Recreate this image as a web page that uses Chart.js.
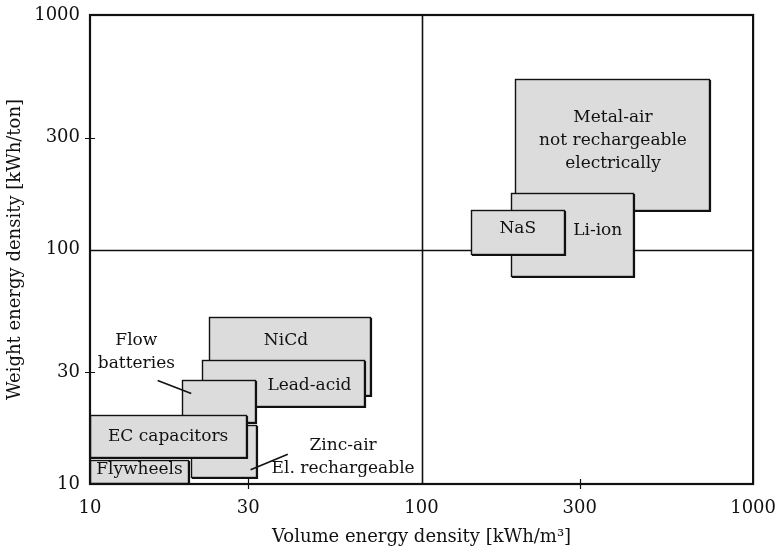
<!DOCTYPE html>
<html>
<head>
<meta charset="utf-8">
<script src="https://cdn.jsdelivr.net/npm/chart.js@4"></script>
<style>
  body { margin: 0; background: #fff; }
  #wrap { width: 782px; height: 552px; }
</style>
</head>
<body>
<div id="wrap"><canvas id="myChart" width="782" height="552"></canvas></div>
<script>
const ctx = document.getElementById("myChart").getContext("2d");

// axis ticks (both axes use the same decades)
const tickValues = [10, 30, 100, 300, 1000];
const refLines = [100];

// storage technologies: volume range (x) and weight range (y), drawn back to front
const techNames = ["Metal-air", "Li-ion", "NaS", "NiCd", "Lead-acid", "Flow batteries", "Zinc-air", "EC capacitors", "Flywheels"];
const volMin = [192, 186, 141, 22.8, 21.8, 19, 20.2, 10, 10];
const volMax = [735, 435, 269, 70, 67, 31.4, 31.7, 29.5, 19.8];
const wtMin = [147, 77, 96, 24, 21.5, 18.4, 10.7, 13, 10.1];
const wtMax = [536, 174, 147, 51.7, 33.8, 27.7, 17.8, 19.7, 12.7];

// text labels placed in data coordinates
const labelText = [
  ["Metal-air", "not rechargeable", "electrically"],
  ["Li-ion"], ["NaS"], ["NiCd"], ["Lead-acid"],
  ["Flow", "batteries"], ["Zinc-air", "El. rechargeable"],
  ["EC capacitors"], ["Flywheels"]
];
const labelX = [378, 340, 195, 39, 45.9, 13.8, 58, 17.2, 14.1];
const labelY = [290, 120, 123, 40.8, 26.4, 36.5, 13, 16, 11.5];

// pointer lines from a label to its box
const leaderX1 = [16.0, 39.5];
const leaderY1 = [27.6, 13.4];
const leaderX2 = [20.2, 30.5];
const leaderY2 = [24.3, 11.5];

const FONT = "'DejaVu Serif', serif";
const LINE_H = 23;

const boxesPlugin = {
  id: "boxes",
  beforeDatasetsDraw(chart) {
    const { ctx: c, chartArea: a, scales: { x, y } } = chart;
    c.save();
    c.strokeStyle = "#111";
    c.lineWidth = 1.6;
    refLines.forEach(v => {
      const px = Math.round(x.getPixelForValue(v)) + 0.5;
      const py = Math.round(y.getPixelForValue(v)) + 0.5;
      c.beginPath();
      c.moveTo(px, a.top); c.lineTo(px, a.bottom);
      c.moveTo(a.left, py); c.lineTo(a.right, py);
      c.stroke();
    });
    // small ticks crossing the frame
    c.lineWidth = 1.2;
    tickValues.forEach(v => {
      if (v === 10 || v === 1000 || refLines.includes(v)) return;
      const px = Math.round(x.getPixelForValue(v)) + 0.5;
      const py = Math.round(y.getPixelForValue(v)) + 0.5;
      c.beginPath();
      c.moveTo(px, a.bottom - 5); c.lineTo(px, a.bottom + 5);
      c.moveTo(a.left - 5, py); c.lineTo(a.left + 5, py);
      c.stroke();
    });

    // boxes
    techNames.forEach((name, i) => {
      const l = Math.round(x.getPixelForValue(volMin[i]));
      const r = Math.round(x.getPixelForValue(volMax[i]));
      const t = Math.round(y.getPixelForValue(wtMax[i]));
      const b = Math.round(y.getPixelForValue(wtMin[i]));
      c.fillStyle = "#dcdcdd";
      c.fillRect(l, t, r - l, b - t);
      c.strokeStyle = "#111";
      c.lineWidth = 1.4;
      c.strokeRect(l + 0.5, t + 0.5, r - l, b - t);
      // heavier right and bottom edge
      c.lineWidth = 1.2;
      c.beginPath();
      c.moveTo(r + 1.5, t + 1); c.lineTo(r + 1.5, b + 1.5); c.lineTo(l + 1, b + 1.5);
      c.stroke();
    });

    // labels
    c.fillStyle = "#111";
    c.font = "17px " + FONT;
    c.textAlign = "center";
    c.textBaseline = "middle";
    labelText.forEach((lines, i) => {
      const px = x.getPixelForValue(labelX[i]);
      const py = y.getPixelForValue(labelY[i]);
      const top = py - (lines.length - 1) * LINE_H / 2;
      lines.forEach((s, k) => c.fillText(s, px, top + k * LINE_H));
    });

    c.lineWidth = 1.6;
    leaderX1.forEach((v, i) => {
      c.beginPath();
      c.moveTo(x.getPixelForValue(v), y.getPixelForValue(leaderY1[i]));
      c.lineTo(x.getPixelForValue(leaderX2[i]), y.getPixelForValue(leaderY2[i]));
      c.stroke();
    });

    // frame
    c.lineWidth = 2.2;
    c.strokeRect(a.left, a.top, a.right - a.left, a.bottom - a.top);
    c.restore();
  }
};

const axisFont = { family: FONT, size: 18 };

const config = {
  type: "scatter",
  data: { datasets: [{ data: [] }] },
  options: {
    responsive: false,
    animation: false,
    layout: { padding: { top: 15, right: 13, left: 0, bottom: 0 } },
    plugins: { legend: { display: false }, tooltip: { enabled: false } },
    scales: {
      x: {
        type: "logarithmic",
        min: 10,
        max: 1000,
        afterBuildTicks: (scale) => { scale.ticks = tickValues.map(v => ({ value: v })); },
        afterFit: (scale) => { scale.height = 68; },
        grid: { display: false },
        border: { display: false },
        ticks: { color: "#111", font: axisFont, padding: 6, maxRotation: 0, callback: (v) => String(v) },
        title: { display: true, text: "Volume energy density [kWh/m³]", color: "#111", font: axisFont, padding: { top: 0, bottom: 4 } }
      },
      y: {
        type: "logarithmic",
        min: 10,
        max: 1000,
        afterBuildTicks: (scale) => { scale.ticks = tickValues.map(v => ({ value: v })); },
        afterFit: (scale) => { scale.width = 90; },
        grid: { display: false },
        border: { display: false },
        ticks: { color: "#111", font: axisFont, padding: 2, callback: (v) => String(v) },
        title: { display: true, text: "Weight energy density [kWh/ton]", color: "#111", font: axisFont, padding: { top: 5, bottom: 0 } }
      }
    }
  },
  plugins: [boxesPlugin]
};

const myChart = new Chart(ctx, config);
</script>
</body>
</html>
